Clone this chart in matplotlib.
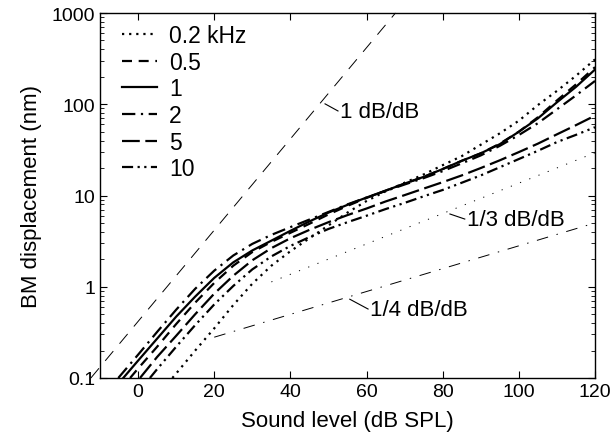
import matplotlib
matplotlib.use("Agg")
import matplotlib.pyplot as plt
from matplotlib.ticker import FixedLocator, FixedFormatter, LogLocator, NullFormatter

plt.rcParams['font.family'] = ['Liberation Sans', 'DejaVu Sans']

# ---- data ----
f02_x = [9, 10, 15, 20, 25, 30, 35, 40, 45, 50, 55, 60, 65, 70, 75, 80, 85,
         90, 95, 100, 105, 110, 115, 120]
f02_y = [0.1, 0.112, 0.2, 0.35, 0.63, 1.08, 1.7, 2.45, 3.4, 4.7, 6.5, 8.7, 11.1,
         13.8, 17, 21.5, 27, 36, 48, 66, 98, 140, 205, 310]

f05_x = [-2.1, 0, 5, 10, 15, 20, 25, 30, 35, 40, 45, 50, 55, 60, 65, 70, 75,
         80, 85, 90, 95, 100, 105, 110, 115, 120]
f05_y = [0.1, 0.127, 0.22, 0.39, 0.67, 1.1, 1.7, 2.4, 3.1, 3.9, 4.9, 6.2, 7.7,
         9.4, 11.3, 13.5, 16, 19.5, 24, 29, 37, 50, 72, 110, 165, 255]

f1_x = [-3.9, 0, 5, 10, 15, 20, 25, 30, 35, 40, 45, 50, 55, 60, 65, 70, 75,
        80, 85, 90, 95, 100, 105, 110, 115, 120]
f1_y = [0.1, 0.155, 0.27, 0.47, 0.78, 1.25, 1.85, 2.5, 3.2, 4.1, 5.2, 6.5, 7.9,
        9.5, 11.3, 13.5, 16, 19.5, 24, 29, 36.5, 50, 70, 105, 155, 240]

f2_x = [-5.2, 0, 5, 10, 15, 20, 25, 30, 35, 40, 45, 50, 55, 60, 65, 70, 75,
        80, 85, 90, 95, 100, 105, 110, 115, 120]
f2_y = [0.1, 0.18, 0.32, 0.56, 0.95, 1.5, 2.2, 2.95, 3.7, 4.5, 5.45, 6.6, 8.0,
        9.5, 11.2, 13.2, 15.5, 18.5, 22.5, 27.5, 35, 46, 62, 88, 125, 180]

f5_x = [0.5, 5, 10, 15, 20, 25, 30, 35, 40, 45, 50, 55, 60, 65, 70, 75,
        80, 85, 90, 95, 100, 105, 110, 115, 120]
f5_y = [0.1, 0.17, 0.29, 0.5, 0.84, 1.32, 1.95, 2.65, 3.4, 4.2, 5.1, 6.1, 7.2,
        8.6, 10.1, 11.9, 14, 16.6, 20, 24.3, 29.9, 37, 46.8, 59, 75]

f10_x = [3.1, 5, 10, 15, 20, 25, 30, 35, 40, 45, 50, 55, 60, 65, 70, 75,
         80, 85, 90, 95, 100, 105, 110, 115, 120]
f10_y = [0.1, 0.125, 0.22, 0.38, 0.64, 1.02, 1.55, 2.15, 2.8, 3.5, 4.3, 5.1, 6.0,
         7.1, 8.3, 9.8, 11.5, 13.8, 16.6, 20.4, 25.1, 30.9, 38.5, 46.2, 56]

labels = ['0.2 kHz', '0.5', '1', '2', '5', '10']

# reference growth lines
ref1_x = [-12.4, 67.6]     # 1 dB/dB
ref1_y = [0.1, 1000]
ref3_x = [35, 120]         # 1/3 dB/dB
ref3_y = [1.13, 29.4]
ref4_x = [20, 120]         # 1/4 dB/dB
ref4_y = [0.28, 5.0]

xticks = [0, 20, 40, 60, 80, 100, 120]
yticks = [0.1, 1, 10, 100, 1000]
yticklabels = ['0.1', '1', '10', '100', '1000']

# ---- figure ----
fig = plt.figure(figsize=(6.15, 4.35), dpi=100)
ax = fig.add_axes([100/615, 1-379/435, 495/615, 365/435])

lw = 1.6
k = 'black'
ax.plot(f02_x, f02_y, color=k, lw=lw, dashes=(1, 2.2), dash_capstyle='butt', label=labels[0])
ax.plot(f05_x, f05_y, color=k, lw=lw, dashes=(4.5, 3), label=labels[1])
ax.plot(f1_x, f1_y, color=k, lw=lw, label=labels[2])
ax.plot(f2_x, f2_y, color=k, lw=lw, dashes=(6, 2.5, 1, 2.5), label=labels[3])
ax.plot(f5_x, f5_y, color=k, lw=lw, dashes=(8, 2.5), label=labels[4])
ax.plot(f10_x, f10_y, color=k, lw=lw, dashes=(5, 2, 1, 2, 1, 2), label=labels[5])

tl = 0.7
ax.plot(ref1_x, ref1_y, color=k, lw=tl, dashes=(13, 10), clip_on=False)
ax.plot(ref3_x, ref3_y, color=k, lw=tl, dashes=(1.2, 9))
ax.plot(ref4_x, ref4_y, color=k, lw=tl, dashes=(12, 9, 1.5, 9))

fs = 14
afs = 16
# annotations
ax.plot([49.1, 52.5], [101, 84.4], color=k, lw=0.8)
ax.text(52.9, 84, '1 dB/dB', fontsize=afs, va='center', ha='left')
ax.plot([81.9, 85.8], [6.27, 5.52], color=k, lw=0.8)
ax.text(86.3, 5.45, '1/3 dB/dB', fontsize=afs, va='center', ha='left')
ax.plot([55.6, 60.4], [0.73, 0.57], color=k, lw=0.8)
ax.text(61.0, 0.565, '1/4 dB/dB', fontsize=afs, va='center', ha='left')

ax.set_yscale('log')
ax.set_xlim(-10, 120)
ax.set_ylim(0.1, 1000)
ax.xaxis.set_major_locator(FixedLocator(xticks))
ax.yaxis.set_major_locator(FixedLocator(yticks))
ax.yaxis.set_major_formatter(FixedFormatter(yticklabels))
ax.yaxis.set_minor_locator(LogLocator(base=10, subs=range(2, 10)))
ax.yaxis.set_minor_formatter(NullFormatter())
ax.tick_params(which='both', direction='in', top=True, right=True, labelsize=fs)
ax.tick_params(which='major', length=5, width=0.8)
ax.tick_params(which='minor', length=3, width=0.6)
for s in ax.spines.values():
    s.set_linewidth(1.0)

ax.set_xlabel('Sound level (dB SPL)', fontsize=16, labelpad=7)
ax.set_ylabel('BM displacement (nm)', fontsize=16, labelpad=7)

ax.legend(loc='upper left', frameon=False, fontsize=16.5, handlelength=1.5,
          handletextpad=0.55, labelspacing=0.16, borderaxespad=0.08,
          bbox_to_anchor=(0.023, 1.0))

fig.savefig('out.png', dpi=100)
